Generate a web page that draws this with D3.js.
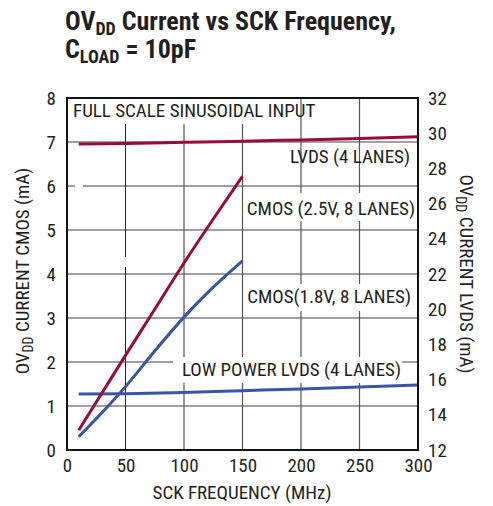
<!DOCTYPE html>
<html><head><meta charset="utf-8">
<script src="https://cdn.jsdelivr.net/npm/d3@7"></script>
<style>
body{margin:0;background:#fff;}
text{font-family:"Liberation Sans Narrow","Arial Narrow","Roboto Condensed","Liberation Sans",sans-serif;fill:#231f20;}
</style></head>
<body>
<svg id="c" width="493" height="506"></svg>
<script>
const freqLVDS = [10, 50, 100, 150, 200, 250, 300];
const lvds4 = [29.38, 29.42, 29.48, 29.54, 29.62, 29.70, 29.80];
const lowPowerLvds4 = [15.18, 15.20, 15.27, 15.37, 15.47, 15.58, 15.70];
const freqCMOS = [10, 30, 50, 75, 100, 125, 150];
const cmos25 = [0.45, 1.30, 2.15, 3.20, 4.25, 5.25, 6.22];
const cmos18 = [0.30, 0.85, 1.44, 2.25, 3.02, 3.70, 4.30];
const xTicks = [0, 50, 100, 150, 200, 250, 300];
const leftTicks = [0, 1, 2, 3, 4, 5, 6, 7, 8];
const rightTicks = [12, 14, 16, 18, 20, 22, 24, 26, 28, 30, 32];

const RED = "#9b0b3a", BLUE = "#3a55a5";
const svg = d3.select("#c");
const L = 67, R = 418, T = 98, B = 450;
const x = d3.scaleLinear().domain([0, 300]).range([L, R]);
const yL = d3.scaleLinear().domain([0, 8]).range([B, T]);
const yR = d3.scaleLinear().domain([12, 32]).range([B, T]);

// grid
const g = svg.append("g");
g.selectAll("line.h").data(leftTicks.slice(1, -1)).enter().append("line")
  .attr("x1", L).attr("x2", R).attr("y1", d => yL(d)).attr("y2", d => yL(d))
  .attr("stroke", "#808080").attr("stroke-width", 1.5);
g.selectAll("line.v").data(xTicks.slice(1, -1)).enter().append("line")
  .attr("x1", d => x(d)).attr("x2", d => x(d)).attr("y1", T).attr("y2", B)
  .attr("stroke", d => d === 50 ? "#222" : "#555").attr("stroke-width", d => d === 50 ? 1 : 1.2);

// white knock-outs behind labels
const boxes = [
  [L + 1, T + 1, 298 - L, 25],
  [246, 193, 171, 28],
  [246, 284, 171, 27],
  [173, 357, 229, 26],
  [120, 257, 10, 10],
  [75, 183, 8, 6]
];
svg.selectAll("rect.bx").data(boxes).enter().append("rect")
  .attr("x", d => d[0]).attr("y", d => d[1]).attr("width", d => d[2]).attr("height", d => d[3])
  .attr("fill", "#fff");

// lines
const lineL = d3.line().x(d => x(d[0])).y(d => yL(d[1])).curve(d3.curveMonotoneX);
const lineR = d3.line().x(d => x(d[0])).y(d => yR(d[1])).curve(d3.curveMonotoneX);
const series = [
  {f: freqLVDS, v: lvds4, line: lineR, c: RED},
  {f: freqLVDS, v: lowPowerLvds4, line: lineR, c: BLUE},
  {f: freqCMOS, v: cmos25, line: lineL, c: RED},
  {f: freqCMOS, v: cmos18, line: lineL, c: BLUE}
];
svg.selectAll("path.s").data(series).enter().append("path")
  .attr("d", s => s.line(s.f.map((f, i) => [f, s.v[i]])))
  .attr("fill", "none").attr("stroke", s => s.c).attr("stroke-width", 3);

// frame
svg.append("rect").attr("x", L).attr("y", T).attr("width", R - L).attr("height", B - T)
  .attr("fill", "none").attr("stroke", "#111").attr("stroke-width", 2);

// axes
const axB = svg.append("g").attr("transform", `translate(0,${B})`)
  .call(d3.axisBottom(x).tickValues(xTicks).tickSize(0).tickPadding(9));
const axL = svg.append("g").attr("transform", `translate(${L},0)`)
  .call(d3.axisLeft(yL).tickValues(leftTicks).tickSize(0).tickPadding(11));
const axR = svg.append("g").attr("transform", `translate(${R},0)`)
  .call(d3.axisRight(yR).tickValues(rightTicks).tickSize(0).tickPadding(10));
[axB, axL, axR].forEach(a => {
  a.select(".domain").remove();
  a.selectAll("text").attr("font-size", 19).attr("font-family", null).style("fill", "#231f20");
});

// in-plot labels
const labels = [
  ["FULL SCALE SINUSOIDAL INPUT", 73, 117, "start"],
  ["LVDS (4 LANES)", 410, 163, "end"],
  ["CMOS (2.5V, 8 LANES)", 415, 215, "end"],
  ["CMOS(1.8V, 8 LANES)", 411, 303, "end"],
  ["LOW POWER LVDS (4 LANES)", 401, 376, "end"]
];
svg.selectAll("text.lb").data(labels).enter().append("text")
  .attr("x", d => d[1]).attr("y", d => d[2]).attr("text-anchor", d => d[3])
  .attr("font-size", 19).text(d => d[0]);

// title
const t1 = svg.append("text").attr("x", 65).attr("y", 30).attr("font-size", 26).attr("font-weight", "bold");
t1.append("tspan").text("OV");
t1.append("tspan").attr("font-size", 18).attr("dy", 5).text("DD");
t1.append("tspan").attr("dy", -5).text(" Current vs SCK Frequency,");
const t2 = svg.append("text").attr("x", 65).attr("y", 58).attr("font-size", 26).attr("font-weight", "bold");
t2.append("tspan").text("C");
t2.append("tspan").attr("font-size", 18).attr("dy", 5).text("LOAD");
t2.append("tspan").attr("dy", -5).text(" = 10pF");

// axis titles
svg.append("text").attr("x", 242).attr("y", 499).attr("text-anchor", "middle")
  .attr("font-size", 19).text("SCK FREQUENCY (MHz)");
const lt = svg.append("text").attr("transform", "translate(29,271) rotate(-90)")
  .attr("text-anchor", "middle").attr("font-size", 19);
lt.append("tspan").text("OV");
lt.append("tspan").attr("font-size", 14).attr("dy", 4).text("DD");
lt.append("tspan").attr("dy", -4).text(" CURRENT CMOS (mA)");
const rt = svg.append("text").attr("transform", "translate(460,274) rotate(90)")
  .attr("text-anchor", "middle").attr("font-size", 19);
rt.append("tspan").text("OV");
rt.append("tspan").attr("font-size", 14).attr("dy", 4).text("DD");
rt.append("tspan").attr("dy", -4).text(" CURRENT LVDS (mA)");
</script>
</body></html>
